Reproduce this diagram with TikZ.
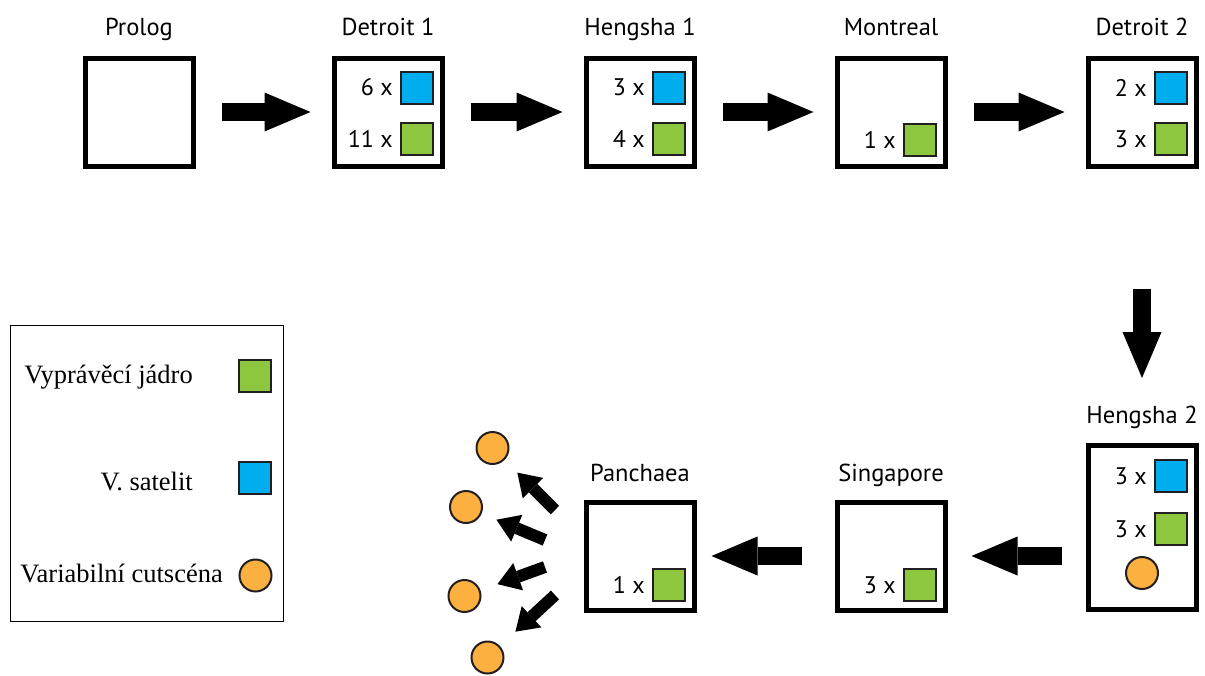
\documentclass[tikz,border=0pt]{standalone}
\usepackage{fontspec}
\setmainfont{Liberation Serif}
\newfontfamily\labelfont{PT Sans}
\usetikzlibrary{arrows.meta,positioning}
\definecolor{satblue}{HTML}{00AEEF}
\definecolor{coregreen}{HTML}{8DC63F}
\definecolor{cutorange}{HTML}{FBB040}
\definecolor{ink}{HTML}{231F20}

\begin{document}
\begin{tikzpicture}[x=1pt,y=-1pt,
  stage/.style={draw=black, line width=5pt, fill=white, minimum width=108pt,
    minimum height=108pt, inner sep=0pt},
  title/.style={font=\labelfont\fontsize{24.5}{26}\selectfont, anchor=base, inner sep=0pt},
  cnt/.style={font=\labelfont\fontsize{24}{26}\selectfont, inner sep=0pt},
  sat/.style={draw=ink, line width=2pt, fill=satblue, minimum size=32pt, inner sep=0pt},
  core/.style={sat, fill=coregreen},
  cut/.style={circle, draw=ink, line width=2pt, fill=cutorange, minimum size=32pt, inner sep=0pt},
  bigarrow/.style={line width=18pt, -{Triangle[length=46pt,width=39pt,line width=0pt]}},
  smallarrow/.style={line width=12pt, -{Triangle[length=22pt,width=29pt,line width=0pt]}},
  legtext/.style={font=\fontsize{26.5}{29}\selectfont, anchor=base east, inner sep=0pt},
]
\useasboundingbox (0,0) rectangle (1205,675);

% ---- upper row of stages ----
\node[stage] (prolog)   at (139,112) {};
\node[stage] (detroit1) at (388,112) {};
\node[stage] (hengsha1) at (640,112) {};
\node[stage] (montreal) at (891,112) {};
\node[stage] (detroit2) at (1142,112) {};

\node[title] (tprolog)   at (139,35)  {Prolog};
\node[title] (tdetroit1) at (388,35)  {Detroit 1};
\node[title] (thengsha1) at (640,35)  {Hengsha 1};
\node[title] (tmontreal) at (891,35)  {Montreal};
\node[title] (tdetroit2) at (1142,35) {Detroit 2};

% ---- lower row of stages ----
\node[stage, minimum height=164pt] (hengsha2) at (1142,527.5) {};
\node[stage] (singapore) at (891,556) {};
\node[stage] (panchaea)  at (640,556) {};

\node[title] (thengsha2)  at (1142,423) {Hengsha 2};
\node[title] (tsingapore) at (891,481)  {Singapore};
\node[title] (tpanchaea)  at (640,481)  {Panchaea};

% ---- contents of the stages ----
\node[sat]  (d1s) at ([shift={(29,-24.5)}]detroit1.center) {};
\node[core] (d1c) at ([shift={(29,27)}]detroit1.center) {};
\node[cnt, left=7pt of d1s] {6 x};
\node[cnt, left=7pt of d1c] {11 x};

\node[sat]  (h1s) at ([shift={(29,-24.5)}]hengsha1.center) {};
\node[core] (h1c) at ([shift={(29,27)}]hengsha1.center) {};
\node[cnt, left=7pt of h1s] {3 x};
\node[cnt, left=7pt of h1c] {4 x};

\node[core] (mc) at ([shift={(29,27.5)}]montreal.center) {};
\node[cnt, left=7pt of mc] {1 x};

\node[sat]  (d2s) at ([shift={(29,-24.5)}]detroit2.center) {};
\node[core] (d2c) at ([shift={(29,27)}]detroit2.center) {};
\node[cnt, left=7pt of d2s] {2 x};
\node[cnt, left=7pt of d2c] {3 x};

\node[sat]  (h2s) at ([shift={(29,-51.5)}]hengsha2.center) {};
\node[core] (h2c) at ([shift={(29,1.5)}]hengsha2.center) {};
\node[cut]  (h2o) at ([shift={(0,45.5)}]hengsha2.center) {};
\node[cnt, left=7pt of h2s] {3 x};
\node[cnt, left=7pt of h2c] {3 x};

\node[core] (sc) at ([shift={(29,29)}]singapore.center) {};
\node[cnt, left=7pt of sc] {3 x};

\node[core] (pc) at ([shift={(29,29)}]panchaea.center) {};
\node[cnt, left=7pt of pc] {1 x};

% ---- flow between stages ----
\draw[bigarrow, shorten <=26pt, shorten >=21pt] (prolog) -- (detroit1);
\draw[bigarrow, shorten <=26pt, shorten >=21pt] (detroit1) -- (hengsha1);
\draw[bigarrow, shorten <=26pt, shorten >=21pt] (hengsha1) -- (montreal);
\draw[bigarrow, shorten <=26pt, shorten >=21pt] (montreal) -- (detroit2);
\draw[bigarrow, shorten <=120pt, shorten >=65pt] (detroit2) -- (hengsha2);
\draw[bigarrow, shorten <=24pt, shorten >=24pt] (hengsha2.west |- singapore.center) -- (singapore);
\draw[bigarrow, shorten <=33pt, shorten >=15pt] (singapore) -- (panchaea);

% ---- variable cutscenes after Panchaea ----
\node[cut] (c1) at (492.5,448) {};
\node[cut] (c2) at (466,507) {};
\node[cut] (c3) at (464.5,596) {};
\node[cut] (c4) at (487.5,657.5) {};
\coordinate (t1) at (555,510);
\coordinate (t2) at (545,540);
\coordinate (t3) at (545,567);
\coordinate (t4) at (555,595);
\draw[smallarrow, shorten >=18pt] (t1) -- (c1);
\draw[smallarrow, shorten >=16pt] (t2) -- (c2);
\draw[smallarrow, shorten >=18pt] (t3) -- (c3);
\draw[smallarrow, shorten >=21pt] (t4) -- (c4);

% ---- legend ----
\node[draw=black, line width=1.5pt, minimum width=273pt, minimum height=296pt,
  inner sep=0pt] (legend) at (147,473.5) {};
\node[core] (lcore) at (255,375.5) {};
\node[sat]  (lsat)  at (255,477.5) {};
\node[cut]  (lcut)  at (255.5,575.5) {};
\node[legtext] (ltcore) at (193,383) {Vyprávěcí jádro};
\node[legtext] (ltsat)  at (193,490) {V. satelit};
\node[legtext] (ltcut)  at (223,582) {Variabilní cutscéna};
\end{tikzpicture}
\end{document}
